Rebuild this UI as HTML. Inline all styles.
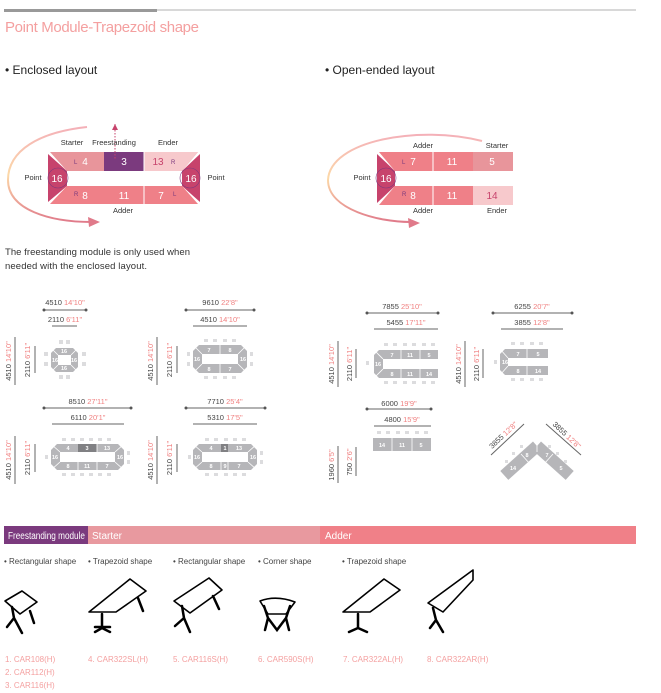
<!DOCTYPE html>
<html><head><meta charset="utf-8"><style>
html,body{margin:0;padding:0;background:#fff}
svg{display:block;font-family:"Liberation Sans",sans-serif}
</style></head><body>
<svg width="661" height="693" viewBox="0 0 661 693" xmlns="http://www.w3.org/2000/svg">
<defs>
<linearGradient id="ga" x1="0" y1="0" x2="0" y2="1"><stop offset="0" stop-color="#f4b0b8"/><stop offset="0.5" stop-color="#fcd9a8"/><stop offset="1" stop-color="#e07a8a"/></linearGradient>
</defs>
<!-- header -->
<line x1="5" y1="10" x2="636" y2="10" stroke="#999" stroke-width="0.8"/>
<rect x="4" y="9" width="153" height="3" fill="#999"/>
<text x="5" y="32" font-size="15" fill="#f4a0a0" textLength="194">Point Module-Trapezoid shape</text>
<text x="5" y="74" font-size="12" fill="#222">• Enclosed layout</text>
<text x="325" y="74" font-size="12" fill="#222">• Open-ended layout</text>

<!-- enclosed diagram -->
<path d="M87,127 C40,132 8,150 8,180 C8,210 50,222 92,222" fill="none" stroke="url(#ga)" stroke-width="2"/>
<polygon points="100,222 88,217 89,227" fill="#e07a8a"/>
<polygon points="50,152 198,152 182,171 67,171" fill="#e8959b"/>
<rect x="104" y="152" width="40" height="19" fill="#7b3a7e"/>
<polygon points="144,152 198,152 182,171 144,171" fill="#f7c9cc"/>
<polygon points="50,204 198,204 182,186 67,186" fill="#ef8088"/>
<polygon points="48,154 67,171 67,186 48,202" fill="#c7436c"/>
<polygon points="200,154 182,171 182,186 200,202" fill="#c7436c"/>
<line x1="144" y1="152" x2="144" y2="171" stroke="#fff" stroke-width="1"/>
<line x1="144" y1="186" x2="144" y2="204" stroke="#fff" stroke-width="1"/>
<g fill="none" stroke="#7b3a7e" stroke-width="0.6"><circle cx="58" cy="178" r="10"/><circle cx="190" cy="178" r="10"/></g>
<line x1="115" y1="124" x2="115" y2="160" stroke="#c7436c" stroke-dasharray="1.5 1.5"/>
<polygon points="115,124 112,130 118,130" fill="#c7436c"/>
<g font-size="10" fill="#fff" text-anchor="middle">
<text x="85" y="165">4</text><text x="124" y="165">3</text><text x="158" y="165" fill="#c7436c">13</text>
<text x="57" y="182">16</text><text x="191" y="182">16</text>
<text x="85" y="199">8</text><text x="124" y="199">11</text><text x="161" y="199">7</text>
</g>
<g font-size="6" fill="#7b3a7e"><text x="74" y="164">L</text><text x="74" y="196">R</text><text x="171" y="164">R</text><text x="173" y="196">L</text></g>
<g font-size="7.5" fill="#333" text-anchor="middle">
<text x="72" y="145">Starter</text><text x="114" y="145">Freestanding</text><text x="168" y="145">Ender</text>
<text x="33" y="180">Point</text><text x="216" y="180">Point</text><text x="123" y="213">Adder</text>
</g>

<!-- open-ended diagram -->
<path d="M482,141 C420,125 330,140 328,180 C328,210 380,222 410,222" fill="none" stroke="url(#ga)" stroke-width="2"/>
<polygon points="420,223 408,218 409,228" fill="#e07a8a"/>
<polygon points="379,152 473,152 473,171 395,171" fill="#ef8088"/>
<rect x="473" y="152" width="40" height="19" fill="#e8959b"/>
<polygon points="379,205 473,205 473,186 395,186" fill="#ef8088"/>
<rect x="473" y="186" width="40" height="19" fill="#f7c9cc"/>
<polygon points="377,154 395,171 395,186 377,203" fill="#c7436c"/>
<line x1="433" y1="152" x2="433" y2="171" stroke="#fff"/><line x1="433" y1="186" x2="433" y2="205" stroke="#fff"/>
<circle cx="386" cy="178" r="10" fill="none" stroke="#7b3a7e" stroke-width="0.6"/>
<g font-size="10" fill="#fff" text-anchor="middle">
<text x="413" y="165">7</text><text x="452" y="165">11</text><text x="492" y="165">5</text>
<text x="386" y="182">16</text>
<text x="413" y="199">8</text><text x="452" y="199">11</text><text x="492" y="199" fill="#c7436c">14</text>
</g>
<g font-size="6" fill="#7b3a7e"><text x="402" y="164">L</text><text x="402" y="196">R</text></g>
<g font-size="7.5" fill="#333" text-anchor="middle">
<text x="423" y="148">Adder</text><text x="497" y="148">Starter</text><text x="362" y="180">Point</text>
<text x="423" y="213">Adder</text><text x="497" y="213">Ender</text>
</g>

<text x="5" y="255" font-size="9.5" fill="#333" textLength="185">The freestanding module is only used when</text>
<text x="5" y="269" font-size="9.5" fill="#333" textLength="142">needed with the enclosed layout.</text>

<!-- dimension lines -->
<g stroke="#666" stroke-width="1">
<line x1="44" y1="310" x2="86" y2="310"/><line x1="52" y1="326" x2="77" y2="326"/>
<line x1="15" y1="337" x2="15" y2="385"/><line x1="35" y1="346" x2="35" y2="373"/>
<line x1="186" y1="310" x2="254" y2="310"/><line x1="193" y1="326" x2="247" y2="326"/>
<line x1="157" y1="337" x2="157" y2="385"/><line x1="177" y1="346" x2="177" y2="373"/>
<line x1="44" y1="408" x2="131" y2="408"/><line x1="52" y1="424" x2="124" y2="424"/>
<line x1="15" y1="436" x2="15" y2="484"/><line x1="35" y1="444" x2="35" y2="472"/>
<line x1="186" y1="408" x2="265" y2="408"/><line x1="193" y1="424" x2="257" y2="424"/>
<line x1="157" y1="436" x2="157" y2="484"/><line x1="177" y1="444" x2="177" y2="472"/>
<line x1="367" y1="313" x2="438" y2="313"/><line x1="374" y1="329" x2="438" y2="329"/>
<line x1="338" y1="341" x2="338" y2="387"/><line x1="356" y1="349" x2="356" y2="378"/>
<line x1="493" y1="313" x2="572" y2="313"/><line x1="501" y1="329" x2="563" y2="329"/>
<line x1="465" y1="341" x2="465" y2="387"/><line x1="483" y1="349" x2="483" y2="378"/>
<line x1="367" y1="409" x2="431" y2="409"/><line x1="374" y1="426" x2="431" y2="426"/>
<line x1="338" y1="446" x2="338" y2="483"/><line x1="356" y1="447" x2="356" y2="476"/>
<line x1="491" y1="455" x2="524" y2="424"/><line x1="546" y1="424" x2="581" y2="455"/>
</g>
<g font-size="7.5" fill="#444" text-anchor="middle">
<text x="65" y="305">4510 <tspan fill="#f08080">14'10"</tspan></text>
<text x="65" y="322">2110 <tspan fill="#f08080">6'11"</tspan></text>
<text x="220" y="305">9610 <tspan fill="#f08080">22'8"</tspan></text>
<text x="220" y="322">4510 <tspan fill="#f08080">14'10"</tspan></text>
<text x="88" y="404">8510 <tspan fill="#f08080">27'11"</tspan></text>
<text x="88" y="420">6110 <tspan fill="#f08080">20'1"</tspan></text>
<text x="225" y="404">7710 <tspan fill="#f08080">25'4"</tspan></text>
<text x="225" y="420">5310 <tspan fill="#f08080">17'5"</tspan></text>
<text x="402" y="309">7855 <tspan fill="#f08080">25'10"</tspan></text>
<text x="406" y="325">5455 <tspan fill="#f08080">17'11"</tspan></text>
<text x="532" y="309">6255 <tspan fill="#f08080">20'7"</tspan></text>
<text x="532" y="325">3855 <tspan fill="#f08080">12'8"</tspan></text>
<text x="399" y="406">6000 <tspan fill="#f08080">19'9"</tspan></text>
<text x="402" y="422">4800 <tspan fill="#f08080">15'9"</tspan></text>
<text transform="translate(11,361) rotate(-90)">4510 <tspan fill="#f08080">14'10"</tspan></text>
<text transform="translate(30,360) rotate(-90)">2110 <tspan fill="#f08080">6'11"</tspan></text>
<text transform="translate(153,361) rotate(-90)">4510 <tspan fill="#f08080">14'10"</tspan></text>
<text transform="translate(172,360) rotate(-90)">2110 <tspan fill="#f08080">6'11"</tspan></text>
<text transform="translate(11,460) rotate(-90)">4510 <tspan fill="#f08080">14'10"</tspan></text>
<text transform="translate(30,458) rotate(-90)">2110 <tspan fill="#f08080">6'11"</tspan></text>
<text transform="translate(153,460) rotate(-90)">4510 <tspan fill="#f08080">14'10"</tspan></text>
<text transform="translate(172,458) rotate(-90)">2110 <tspan fill="#f08080">6'11"</tspan></text>
<text transform="translate(334,364) rotate(-90)">4510 <tspan fill="#f08080">14'10"</tspan></text>
<text transform="translate(352,364) rotate(-90)">2110 <tspan fill="#f08080">6'11"</tspan></text>
<text transform="translate(461,364) rotate(-90)">4510 <tspan fill="#f08080">14'10"</tspan></text>
<text transform="translate(479,364) rotate(-90)">2110 <tspan fill="#f08080">6'11"</tspan></text>
<text transform="translate(334,465) rotate(-90)">1960 <tspan fill="#f08080">6'5"</tspan></text>
<text transform="translate(352,462) rotate(-90)">750 <tspan fill="#f08080">2'6"</tspan></text>
<text transform="translate(505,437) rotate(-43)">3855 <tspan fill="#f08080">12'8"</tspan></text>
<text transform="translate(565,437) rotate(43)">3855 <tspan fill="#f08080">12'8"</tspan></text>
</g>
<g fill="#555"><circle cx="44" cy="310" r="1.5"/><circle cx="86" cy="310" r="1.5"/><circle cx="186" cy="310" r="1.5"/><circle cx="254" cy="310" r="1.5"/><circle cx="44" cy="408" r="1.5"/><circle cx="131" cy="408" r="1.5"/><circle cx="186" cy="408" r="1.5"/><circle cx="265" cy="408" r="1.5"/><circle cx="367" cy="313" r="1.5"/><circle cx="438" cy="313" r="1.5"/><circle cx="493" cy="313" r="1.5"/><circle cx="572" cy="313" r="1.5"/><circle cx="367" cy="409" r="1.5"/><circle cx="431" cy="409" r="1.5"/></g>

<!-- gray tables -->
<g fill="#b6b6b9">
<polygon points="56,348 73,348 78,353 78,367 73,372 56,372 51,367 51,353"/>
<polygon points="199,345 241,345 247,351 247,367 241,373 199,373 193,367 193,351"/>
<polygon points="57,444 118,444 124,450 124,464 118,470 57,470 51,464 51,450"/>
<polygon points="199,444 251,444 257,450 257,464 251,470 199,470 193,464 193,450"/>
<polygon points="379,350 438,350 438,378 379,378 374,373 374,355"/>
<polygon points="505,349 548,349 548,375 505,375 500,370 500,354"/>
<rect x="373" y="438" width="58" height="13"/>
<g transform="translate(537,446) rotate(138)"><rect x="0" y="-6" width="44" height="12"/></g>
<g transform="translate(537,446) rotate(42)"><rect x="0" y="-6" width="44" height="12"/></g>
</g>
<g fill="#808083"><rect x="78" y="444" width="19" height="8"/><rect x="221" y="444" width="7" height="8"/></g>
<g fill="#fff">
<rect x="58" y="355" width="13" height="10"/><rect x="202" y="354" width="36" height="10"/>
<rect x="60" y="452" width="55" height="10"/><rect x="202" y="452" width="46" height="10"/>
<rect x="383" y="359" width="56" height="10"/><rect x="508" y="358" width="41" height="8"/>
</g>
<g stroke="#fff" stroke-width="0.8">
<line x1="51" y1="348" x2="58" y2="355"/><line x1="78" y1="348" x2="71" y2="355"/><line x1="51" y1="372" x2="58" y2="365"/><line x1="78" y1="372" x2="71" y2="365"/>
<line x1="193" y1="345" x2="202" y2="354"/><line x1="247" y1="345" x2="238" y2="354"/><line x1="193" y1="373" x2="202" y2="364"/><line x1="247" y1="373" x2="238" y2="364"/><line x1="220" y1="345" x2="220" y2="373"/>
<line x1="51" y1="444" x2="60" y2="452"/><line x1="124" y1="444" x2="115" y2="452"/><line x1="51" y1="470" x2="60" y2="462"/><line x1="124" y1="470" x2="115" y2="462"/>
<line x1="78" y1="462" x2="78" y2="470"/><line x1="97" y1="444" x2="97" y2="470"/>
<line x1="193" y1="444" x2="202" y2="452"/><line x1="257" y1="444" x2="248" y2="452"/><line x1="193" y1="470" x2="202" y2="462"/><line x1="257" y1="470" x2="248" y2="462"/>
<line x1="221" y1="462" x2="221" y2="470"/><line x1="228" y1="462" x2="228" y2="470"/>
<line x1="374" y1="350" x2="383" y2="359"/><line x1="374" y1="378" x2="383" y2="369"/><line x1="401" y1="350" x2="401" y2="378"/><line x1="420" y1="350" x2="420" y2="378"/>
<line x1="500" y1="349" x2="508" y2="358"/><line x1="500" y1="375" x2="508" y2="366"/><line x1="527" y1="349" x2="527" y2="375"/>
<line x1="392" y1="438" x2="392" y2="451"/><line x1="412" y1="438" x2="412" y2="451"/>
<line x1="537" y1="440" x2="537" y2="452"/><line x1="521" y1="454" x2="530" y2="464"/><line x1="553" y1="454" x2="544" y2="464"/>
</g>
<g font-size="5.5" fill="#fff" text-anchor="middle" font-weight="bold">
<text x="64" y="353">16</text><text x="55" y="362">16</text><text x="74" y="362">16</text><text x="64" y="370">16</text>
<text x="209" y="352">7</text><text x="230" y="352">8</text><text x="197" y="361">16</text><text x="243" y="361">16</text><text x="209" y="371">8</text><text x="230" y="371">7</text>
<text x="68" y="450">4</text><text x="87" y="450">3</text><text x="107" y="450">13</text><text x="55" y="459">16</text><text x="120" y="459">16</text><text x="68" y="468">8</text><text x="87" y="468">11</text><text x="107" y="468">7</text>
<text x="211" y="450">4</text><text x="225" y="450">1</text><text x="239" y="450">13</text><text x="197" y="459">16</text><text x="253" y="459">16</text><text x="211" y="468">8</text><text x="225" y="468">9</text><text x="239" y="468">7</text>
<text x="392" y="357">7</text><text x="410" y="357">11</text><text x="429" y="357">5</text><text x="378" y="366">16</text><text x="392" y="376">8</text><text x="410" y="376">11</text><text x="429" y="376">14</text>
<text x="518" y="356">7</text><text x="538" y="356">5</text><text x="505" y="364">16</text><text x="518" y="373">8</text><text x="538" y="373">14</text>
<text x="382" y="447">14</text><text x="402" y="447">11</text><text x="421" y="447">5</text>
<text x="513" y="470">14</text><text x="527" y="457">8</text><text x="547" y="457">7</text><text x="561" y="470">5</text>
</g>
<!-- chairs -->
<g fill="#dcdcde">
<rect x="59" y="340" width="4" height="4"/><rect x="66" y="340" width="4" height="4"/><rect x="59" y="375" width="4" height="4"/><rect x="66" y="375" width="4" height="4"/>
<rect x="44" y="352" width="4" height="4"/><rect x="44" y="362" width="4" height="4"/><rect x="82" y="352" width="4" height="4"/><rect x="82" y="362" width="4" height="4"/>
<rect x="204" y="339" width="4" height="3"/><rect x="213" y="339" width="4" height="3"/><rect x="223" y="339" width="4" height="3"/><rect x="232" y="339" width="4" height="3"/>
<rect x="204" y="376" width="4" height="3"/><rect x="213" y="376" width="4" height="3"/><rect x="223" y="376" width="4" height="3"/><rect x="232" y="376" width="4" height="3"/>
<rect x="187" y="352" width="3" height="4"/><rect x="187" y="362" width="3" height="4"/><rect x="250" y="352" width="3" height="4"/><rect x="250" y="362" width="3" height="4"/>
<rect x="62" y="438" width="4" height="3"/><rect x="71" y="438" width="4" height="3"/><rect x="80" y="438" width="4" height="3"/><rect x="89" y="438" width="4" height="3"/><rect x="98" y="438" width="4" height="3"/><rect x="107" y="438" width="4" height="3"/>
<rect x="62" y="473" width="4" height="3"/><rect x="71" y="473" width="4" height="3"/><rect x="80" y="473" width="4" height="3"/><rect x="89" y="473" width="4" height="3"/><rect x="98" y="473" width="4" height="3"/><rect x="107" y="473" width="4" height="3"/>
<rect x="45" y="455" width="3" height="4"/><rect x="127" y="451" width="3" height="4"/><rect x="127" y="460" width="3" height="4"/>
<rect x="205" y="438" width="4" height="3"/><rect x="214" y="438" width="4" height="3"/><rect x="224" y="438" width="4" height="3"/><rect x="233" y="438" width="4" height="3"/><rect x="242" y="438" width="4" height="3"/>
<rect x="205" y="473" width="4" height="3"/><rect x="214" y="473" width="4" height="3"/><rect x="224" y="473" width="4" height="3"/><rect x="233" y="473" width="4" height="3"/><rect x="242" y="473" width="4" height="3"/>
<rect x="188" y="455" width="3" height="4"/><rect x="260" y="451" width="3" height="4"/><rect x="260" y="460" width="3" height="4"/>
<rect x="384" y="343" width="4" height="3"/><rect x="393" y="343" width="4" height="3"/><rect x="403" y="343" width="4" height="3"/><rect x="412" y="343" width="4" height="3"/><rect x="422" y="343" width="4" height="3"/><rect x="431" y="343" width="4" height="3"/>
<rect x="384" y="381" width="4" height="3"/><rect x="393" y="381" width="4" height="3"/><rect x="403" y="381" width="4" height="3"/><rect x="412" y="381" width="4" height="3"/><rect x="422" y="381" width="4" height="3"/><rect x="431" y="381" width="4" height="3"/>
<rect x="366" y="361" width="3" height="4"/>
<rect x="511" y="342" width="4" height="3"/><rect x="520" y="342" width="4" height="3"/><rect x="530" y="342" width="4" height="3"/><rect x="539" y="342" width="4" height="3"/>
<rect x="511" y="378" width="4" height="3"/><rect x="520" y="378" width="4" height="3"/><rect x="530" y="378" width="4" height="3"/><rect x="539" y="378" width="4" height="3"/>
<rect x="494" y="360" width="3" height="4"/>
<rect x="377" y="431" width="4" height="3"/><rect x="386" y="431" width="4" height="3"/><rect x="396" y="431" width="4" height="3"/><rect x="405" y="431" width="4" height="3"/><rect x="415" y="431" width="4" height="3"/><rect x="424" y="431" width="4" height="3"/>
<rect x="505" y="460" width="3" height="3"/><rect x="512" y="452" width="3" height="3"/><rect x="520" y="445" width="3" height="3"/><rect x="548" y="445" width="3" height="3"/><rect x="556" y="452" width="3" height="3"/><rect x="564" y="460" width="3" height="3"/>
</g>

<!-- bottom bar -->
<rect x="4" y="526" width="84" height="18" fill="#7b3a7e"/>
<rect x="88" y="526" width="232" height="18" fill="#e8999f"/>
<rect x="320" y="526" width="316" height="18" fill="#f08088"/>
<g font-size="10" fill="#fff"><text x="8" y="539" textLength="77" lengthAdjust="spacingAndGlyphs">Freestanding module</text><text x="92" y="539">Starter</text><text x="325" y="539">Adder</text></g>
<g font-size="8" fill="#444">
<text x="4" y="564">• Rectangular shape</text><text x="88" y="564">• Trapezoid shape</text><text x="173" y="564">• Rectangular shape</text><text x="258" y="564">• Corner shape</text><text x="342" y="564">• Trapezoid shape</text>
</g>
<g font-size="8" fill="#f4a0a0">
<text x="5" y="662">1. CAR108(H)</text><text x="5" y="675">2. CAR112(H)</text><text x="5" y="688">3. CAR116(H)</text>
<text x="88" y="662">4. CAR322SL(H)</text><text x="173" y="662">5. CAR116S(H)</text><text x="258" y="662">6. CAR590S(H)</text><text x="343" y="662">7. CAR322AL(H)</text><text x="427" y="662">8. CAR322AR(H)</text>
</g>
<!-- table icons -->
<g fill="#fff" stroke="#000" stroke-width="1.6" stroke-linejoin="round">
<polygon points="5,601 22,591 37,602 20,614"/>
<polygon points="89,612 130,579 146,591 116,612"/>
<polygon points="174,601 209,578 222,590 190,613"/>
<path d="M260,601 Q276,595 295,602 L286,614 L268,614 Z"/>
<polygon points="343,612 384,579 400,590 370,612"/>
<polygon points="428,603 473,570 473,580 443,612"/>
</g>
<g fill="none" stroke="#000" stroke-width="2.5" stroke-linecap="round">
<path d="M12,607 L14,618 L22,633 M14,618 L7,627 M30,611 L34,623"/>
<path d="M102,614 L102,628 M95,627 L110,627 M95,632 L102,628 L110,632 M138,598 L143,611"/>
<path d="M182,606 L184,618 L190,632 M184,618 L175,626 M213,596 L219,609"/>
<path d="M264,606 L268,618 L265,630 M290,606 L286,618 L289,630 M268,618 L277,630 L286,618"/>
<path d="M358,614 L358,628 M349,632 L358,628 L367,632"/>
<path d="M433,608 L436,620 L443,632 M436,620 L430,628"/>
</g>
</svg>
</body></html>
